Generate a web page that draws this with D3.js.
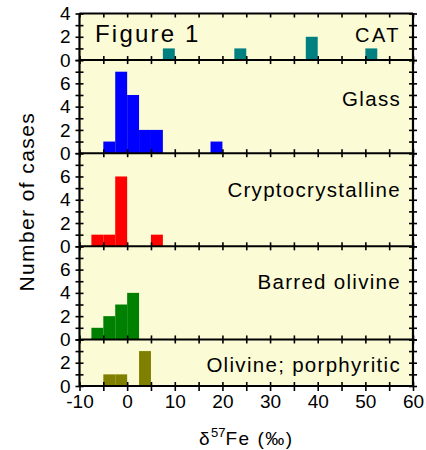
<!DOCTYPE html>
<html>
<head>
<meta charset="utf-8">
<script src="https://cdn.jsdelivr.net/npm/d3@7"></script>
<style>
  body { margin: 0; background: #fff; }
  svg { display: block; font-family: "Liberation Sans", Arial, sans-serif; }
  .axis path { stroke: #000; stroke-width: 2; }
  .axis line { stroke: #000; stroke-width: 1.6; }
  .axis text { font-size: 19px; fill: #000; font-family: "Liberation Sans", Arial, sans-serif; }
</style>
</head>
<body>
<div id="chart"></div>
<script>
// bin width of every histogram, in per mil
const binWidth = 2.5;

// panel names, top to bottom
const panelNames = ["CAT", "Glass", "Cryptocrystalline", "Barred olivine", "Olivine; porphyritic"];
const panelMax = [4, 8, 8, 8, 4];
const panelColors = ["#008080", "#0000ff", "#ff0000", "#008000", "#808000"];

// left edge of each bin and number of cases
const catBins = [7.5, 22.5, 37.5, 50];
const catCounts = [1, 1, 2, 1];
const glassBins = [-5, -2.5, 0, 2.5, 5, 17.5];
const glassCounts = [1, 7, 5, 2, 2, 1];
const cryptoBins = [-7.5, -5, -2.5, 5];
const cryptoCounts = [1, 1, 6, 1];
const barredBins = [-7.5, -5, -2.5, 0];
const barredCounts = [1, 2, 3, 4];
const porphBins = [-5, -2.5, 2.5];
const porphCounts = [1, 1, 3];

const xTicks = [-10, -5, 0, 5, 10, 15, 20, 25, 30, 35, 40, 45, 50, 55, 60];

const panelBins = [catBins, glassBins, cryptoBins, barredBins, porphBins];
const panelCounts = [catCounts, glassCounts, cryptoCounts, barredCounts, porphCounts];

const W = 426, H = 450;
const margin = { top: 13.5, right: 13, bottom: 64, left: 79.5 };
const plotW = W - margin.left - margin.right;
const plotH = H - margin.top - margin.bottom;
// baseline of each panel name, px below the panel top
const labelDrop = [28.2, 46, 43.7, 42.7, 32.7];

const svg = d3.select("#chart").append("svg")
    .attr("width", W)
    .attr("height", H);

const x = d3.scaleLinear().domain([-10, 60]).range([margin.left, margin.left + plotW]);

// stack the panels with the same pixels per case
const totalUnits = d3.sum(panelMax);
const unitScale = d3.scaleLinear().domain([0, totalUnits]).range([0, plotH]);

svg.append("rect")
    .attr("x", margin.left)
    .attr("y", margin.top)
    .attr("width", plotW)
    .attr("height", plotH)
    .attr("fill", "#fbfbd5");

let offset = 0;
const panels = panelNames.map((name, i) => {
    const top = margin.top + unitScale(offset);
    offset += panelMax[i];
    const bottom = margin.top + unitScale(offset);
    const y = d3.scaleLinear().domain([0, panelMax[i]]).range([bottom, top]);
    return { name, i, top, bottom, y };
});

panels.forEach((p) => {
    const g = svg.append("g").attr("class", "panel");
    const data = panelBins[p.i].map((b, k) => ({ x0: b, x1: b + binWidth, n: panelCounts[p.i][k] }));

    g.selectAll("rect.bar")
        .data(data)
        .join("rect")
        .attr("class", "bar")
        .attr("x", (d) => x(d.x0))
        .attr("width", (d) => x(d.x1) - x(d.x0))
        .attr("y", (d) => p.y(d.n))
        .attr("height", (d) => p.y(0) - p.y(d.n))
        .attr("fill", panelColors[p.i]);

    // labelled even ticks; the top value is shared with the panel above
    const yTicks = d3.range(0, panelMax[p.i] + 1);
    const showLabel = (v) => v % 2 === 0 && (v < panelMax[p.i] || p.i === 0);

    g.append("g")
        .attr("class", "axis")
        .attr("transform", `translate(${margin.left},0)`)
        .call(d3.axisLeft(p.y).tickValues(yTicks).tickSize(4).tickPadding(5)
            .tickFormat((v) => showLabel(v) ? v : ""))
        .call((a) => a.select(".domain").remove());
    g.append("g")
        .attr("class", "axis")
        .attr("transform", `translate(${margin.left},0)`)
        .call(d3.axisRight(p.y).tickValues(yTicks).tickSize(4).tickFormat(""))
        .call((a) => a.select(".domain").remove());

    const xr = margin.left + plotW;
    g.append("g")
        .attr("class", "axis")
        .attr("transform", `translate(${xr},0)`)
        .call(d3.axisRight(p.y).tickValues(yTicks).tickSize(4).tickFormat(""))
        .call((a) => a.select(".domain").remove());
    g.append("g")
        .attr("class", "axis")
        .attr("transform", `translate(${xr},0)`)
        .call(d3.axisLeft(p.y).tickValues(yTicks).tickSize(4).tickFormat(""))
        .call((a) => a.select(".domain").remove());

    // separator / bottom line with ticks up and down
    const isLast = p.i === panels.length - 1;
    g.append("g")
        .attr("class", "axis")
        .attr("transform", `translate(0,${p.bottom})`)
        .call(d3.axisBottom(x).tickValues(xTicks).tickSize(isLast ? 5 : 4).tickPadding(4)
            .tickFormat((v) => isLast && v % 10 === 0 ? v : ""))
        .call((a) => a.select(".domain").attr("d", `M${margin.left},0H${xr}`));
    g.append("g")
        .attr("class", "axis")
        .attr("transform", `translate(0,${p.bottom})`)
        .call(d3.axisTop(x).tickValues(xTicks).tickSize(4).tickFormat(""))
        .call((a) => a.select(".domain").remove());

    g.append("text")
        .attr("x", 401)
        .attr("y", p.top + labelDrop[p.i])
        .attr("text-anchor", "end")
        .attr("font-size", p.i === 0 ? 20 : 20.5)
        .attr("letter-spacing", p.i === 0 ? 2.5 : 1.3)
        .attr("fill", "#000")
        .text(p.name);
});

// top border with inward ticks
svg.append("g")
    .attr("class", "axis")
    .attr("transform", `translate(0,${margin.top})`)
    .call(d3.axisBottom(x).tickValues(xTicks).tickSize(4).tickFormat(""))
    .call((a) => a.select(".domain").attr("d", `M${margin.left},0H${margin.left + plotW}`));

// left and right frame lines
svg.append("line")
    .attr("x1", margin.left).attr("x2", margin.left)
    .attr("y1", margin.top).attr("y2", margin.top + plotH)
    .attr("stroke", "#000").attr("stroke-width", 2.2);
svg.append("line")
    .attr("x1", margin.left + plotW).attr("x2", margin.left + plotW)
    .attr("y1", margin.top).attr("y2", margin.top + plotH)
    .attr("stroke", "#000").attr("stroke-width", 2.2);

svg.append("text")
    .attr("x", 95)
    .attr("y", 41.7)
    .attr("font-size", 24)
    .attr("letter-spacing", 2.2)
    .attr("fill", "#000")
    .text("Figure 1");

svg.append("text")
    .attr("transform", `translate(34,${margin.top + plotH / 2 + 2}) rotate(-90)`)
    .attr("text-anchor", "middle")
    .attr("font-size", 21)
    .attr("letter-spacing", 1.4)
    .attr("fill", "#000")
    .text("Number of cases");

const xt = svg.append("text")
    .attr("x", margin.left + plotW / 2)
    .attr("y", 445)
    .attr("text-anchor", "middle")
    .attr("font-size", 19)
    .attr("letter-spacing", 1.5)
    .attr("fill", "#000");
xt.append("tspan").text("δ");
xt.append("tspan").attr("font-size", 13).attr("dy", -8).attr("letter-spacing", 0).text("57");
xt.append("tspan").attr("dy", 8).text("Fe (‰)");
</script>
</body>
</html>
